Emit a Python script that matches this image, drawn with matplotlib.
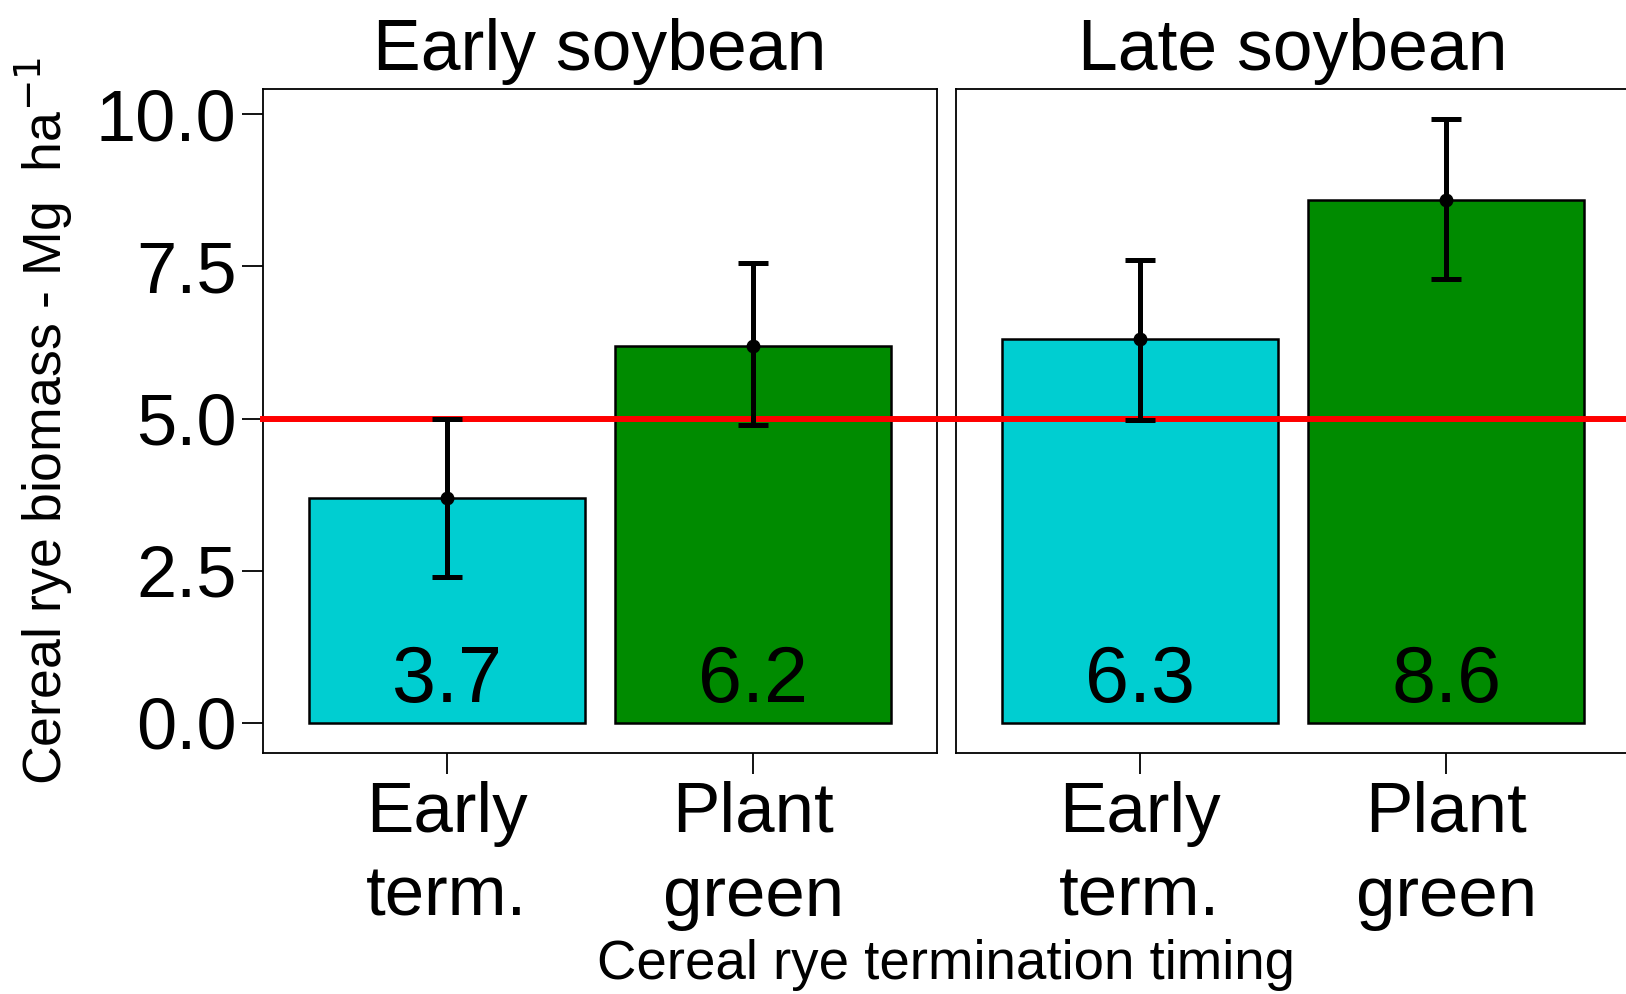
import matplotlib
matplotlib.use("Agg")
import matplotlib.pyplot as plt
import numpy as np

# Cereal rye biomass by soybean planting date and termination timing
panels = ["Early soybean", "Late soybean"]
timings = ["Early\nterm.", "Plant\ngreen"]
biomass = [[3.7, 6.2], [6.3, 8.6]]
err_low = [[2.4, 4.9], [4.98, 7.3]]
err_high = [[5.0, 7.55], [7.6, 9.92]]
bar_colors = ["#00CED1", "#008B00"]
threshold = 5.0
y_ticks = [0.0, 2.5, 5.0, 7.5, 10.0]

plt.rcParams["font.family"] = ["Liberation Sans", "DejaVu Sans"]

W, H = 1626, 994
fig = plt.figure(figsize=(W / 100, H / 100), dpi=100)

left_px = [263, 956]
pw, top_px, bot_px = 674, 89, 753
ymin, ymax = -0.496, 10.416

axes = []
for i, name in enumerate(panels):
    ax = fig.add_axes([left_px[i] / W, (H - bot_px) / H, pw / W, (bot_px - top_px) / H])
    axes.append(ax)
    x = np.arange(1, len(timings) + 1)
    vals = np.array(biomass[i])
    lo = np.array(err_low[i])
    hi = np.array(err_high[i])
    ax.bar(x, vals, width=0.9, color=bar_colors, edgecolor="black", linewidth=1.8, zorder=2)
    # threshold line, carried across the gap between panels
    xmax = (left_px[1] - left_px[0]) / pw if i == 0 else 1.2
    ax.axhline(threshold, xmin=0, xmax=xmax, color="#FF0000", linewidth=4.3, clip_on=False, zorder=3)
    ax.errorbar(x, vals, yerr=[vals - lo, hi - vals], fmt="o", color="black",
                markersize=9, elinewidth=3.6, capsize=11, capthick=3.6, zorder=4)
    for xi, v in zip(x, vals):
        ax.text(xi, 0.34, f"{v:.1f}", ha="center", va="baseline", fontsize=57, zorder=5)
    ax.set_xlim(0.4, 2.6)
    ax.set_ylim(ymin, ymax)
    ax.set_xticks(x)
    ax.set_xticklabels(timings, fontsize=51, linespacing=1.35)
    ax.tick_params(axis="x", length=15, width=1.3, pad=5)
    if i == 0:
        ax.set_yticks(y_ticks)
        ax.set_yticklabels([f"{t:.1f}" for t in y_ticks], fontsize=52)
        ax.tick_params(axis="y", length=15, width=1.3, pad=4)
    else:
        ax.set_yticks([])
    for s in ax.spines.values():
        s.set_linewidth(1.3)
    ax.set_title(name, fontsize=51.5, pad=14)

fig.text(946 / W, 1 - 965 / H, "Cereal rye termination timing", ha="center", va="center", fontsize=39.3)
fig.text(44 / W, 1 - 421 / H, r"Cereal rye biomass - Mg  ha$^{-1}$", ha="center", va="center",
         rotation=90, fontsize=38.6)

fig.savefig("out.png", dpi=100)
